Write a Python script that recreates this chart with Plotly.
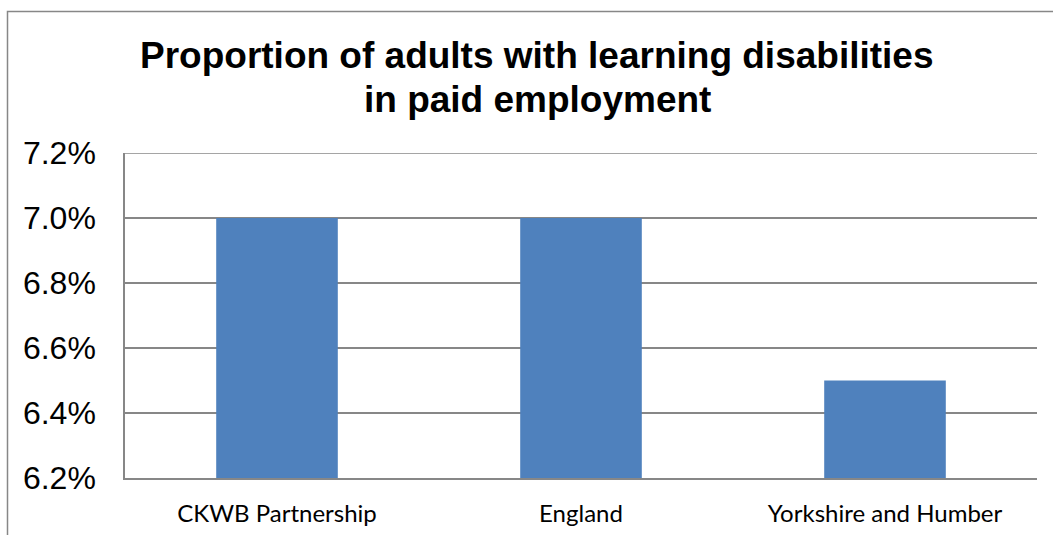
import plotly.graph_objects as go

categories = ["CKWB Partnership", "England", "Yorkshire and Humber"]
values = [0.070, 0.070, 0.065]
tick_vals = [0.062, 0.064, 0.066, 0.068, 0.070, 0.072]
tick_text = ["6.2%", "6.4%", "6.6%", "6.8%", "7.0%", "7.2%"]
title_lines = ["Proportion of adults with learning disabilities", "in paid employment"]

W, H = 1053, 535
ml, mt = 125, 153
pw, ph = 1037 - 125, 478 - 153
mr, mb = W - ml - pw, H - mt - ph

fig = go.Figure(go.Bar(x=categories, y=values, marker_color="#4F81BD", marker_line_width=0))

grid = "#878787"
fig.update_layout(
    width=W, height=H,
    margin=dict(l=ml, r=mr, t=mt, b=mb, pad=0, autoexpand=False),
    paper_bgcolor="white", plot_bgcolor="white",
    bargap=0.6,
    showlegend=False,
)
title_font = dict(family="Liberation Sans, Arial", size=37, color="black")
for line, yc in zip(title_lines, [56, 99]):
    fig.add_annotation(
        text="<b>" + line + "</b>", xref="paper", yref="paper",
        x=(537 - ml) / pw, y=(478 - yc) / ph, xanchor="center", yanchor="middle",
        showarrow=False, font=title_font,
    )
fig.update_yaxes(
    range=[tick_vals[0], tick_vals[-1]], tickvals=tick_vals, ticktext=tick_text,
    showgrid=True, gridcolor=grid, gridwidth=1.5,
    showline=True, linecolor=grid, linewidth=1.5,
    zeroline=False, ticks="", ticklabelstandoff=21, automargin=False,
    tickfont=dict(family="Liberation Sans, Arial", size=32, color="black"),
)
fig.update_xaxes(
    showline=True, linecolor=grid, linewidth=1.5, showgrid=False,
    ticks="", ticklabelstandoff=13, automargin=False,
    tickfont=dict(family="Lato, Carlito, Calibri", size=24, color="black"),
)
# top gridline (plotly drops gridlines exactly at the range edge)
fig.add_shape(
    type="line", xref="paper", yref="y", x0=0, x1=1,
    y0=tick_vals[-1], y1=tick_vals[-1],
    line=dict(color=grid, width=1.5), layer="below",
)
# outer chart border (partially outside the visible page)
fig.add_shape(
    type="rect", xref="paper", yref="paper",
    x0=(7.5 - ml) / pw, x1=(1080 - ml) / pw,
    y0=-(560 - 478) / ph, y1=(478 - 11.5) / ph,
    line=dict(color=grid, width=1.5), fillcolor="rgba(0,0,0,0)", layer="below",
)
fig.write_html(
    "out.html",
    config={"displayModeBar": False},
    post_script="document.body.style.margin='0';document.body.style.overflow='hidden';",
)
